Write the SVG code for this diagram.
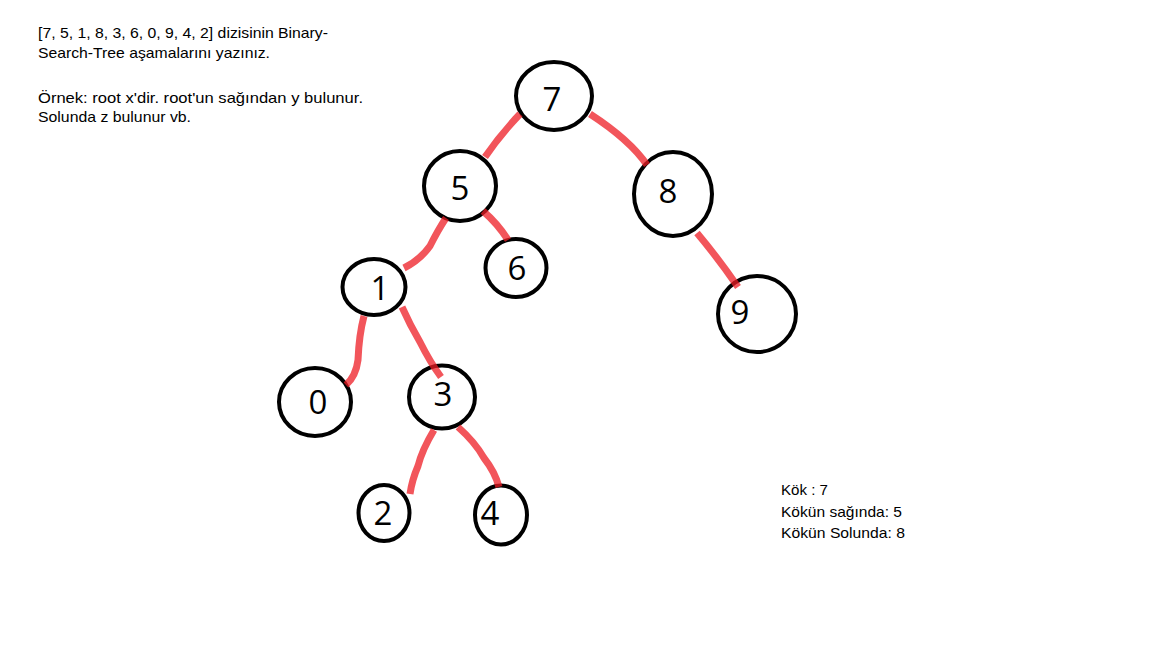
<svg xmlns="http://www.w3.org/2000/svg" width="1152" height="648" viewBox="0 0 1152 648">
<style>
.edge{fill:none;stroke:#ed1c24;stroke-opacity:0.75;stroke-width:7;stroke-linecap:butt;stroke-linejoin:round}
.node ellipse{fill:#fff;stroke:#000;stroke-width:4}
.node text{font-family:"Open Sans","DejaVu Sans",sans-serif;font-size:33px;fill:#000;text-anchor:middle}
.note{font-family:"Liberation Sans",Arial,sans-serif;font-size:15px;fill:#000}
</style>
<rect width="1152" height="648" fill="#fff"/>
<g id="node7" class="node"><ellipse cx="554" cy="96" rx="38" ry="34"/><text x="552" y="111">7</text></g>
<g id="node5" class="node"><ellipse cx="460" cy="186" rx="36" ry="35"/><text x="460" y="200">5</text></g>
<g id="node8" class="node"><ellipse cx="673" cy="194" rx="39" ry="42"/><text x="668" y="203">8</text></g>
<g id="node6" class="node"><ellipse cx="516" cy="268" rx="30.5" ry="29"/><text x="517" y="280">6</text></g>
<g id="node1" class="node"><ellipse cx="374" cy="287" rx="31.5" ry="28"/><text x="380" y="300">1</text></g>
<g id="node9" class="node"><ellipse cx="757" cy="314" rx="39" ry="38"/><text x="740" y="324">9</text></g>
<g id="node0" class="node"><ellipse cx="315" cy="402" rx="36" ry="34"/><text x="318" y="414">0</text></g>
<g id="node3" class="node"><ellipse cx="442" cy="397" rx="33" ry="31.5"/><text x="443" y="406">3</text></g>
<g id="node2" class="node"><ellipse cx="384" cy="513" rx="25.5" ry="28"/><text x="383" y="525">2</text></g>
<g id="node4" class="node"><ellipse cx="501" cy="515" rx="26" ry="29.5"/><text x="490" y="525">4</text></g>
<g id="connectors">
<path class="edge" d="M520,114 Q500,135 485,157"/>
<path class="edge" d="M590,114 Q630,140 647,165"/>
<path class="edge" d="M483,211 Q498,224 508,240"/>
<path class="edge" d="M446,218 Q438,230 430,246 Q420,260 404,268"/>
<path class="edge" d="M697,233 Q718,258 738,287"/>
<path class="edge" d="M364,316 Q359,335 358,360 Q356,376 346,385"/>
<path class="edge" d="M402,307 Q410,325 420,342 Q430,362 441,377"/>
<path class="edge" d="M434,430 Q422,450 418,466 Q412,480 410,494"/>
<path class="edge" d="M458,427 Q475,442 484,458 Q495,472 499,487"/>
</g>
<g id="notes">
<text class="note" x="38" y="37.5" textLength="290" lengthAdjust="spacingAndGlyphs">[7, 5, 1, 8, 3, 6, 0, 9, 4, 2] dizisinin Binary-</text>
<text class="note" x="38" y="58" textLength="232" lengthAdjust="spacingAndGlyphs">Search-Tree aşamalarını yazınız.</text>
<text class="note" x="38" y="102.5" textLength="325" lengthAdjust="spacingAndGlyphs">Örnek: root x'dir. root'un sağından y bulunur.</text>
<text class="note" x="38" y="122" textLength="153" lengthAdjust="spacingAndGlyphs">Solunda z bulunur vb.</text>
<text class="note" x="781" y="495" textLength="47" lengthAdjust="spacingAndGlyphs">Kök : 7</text>
<text class="note" x="781" y="516.5" textLength="121" lengthAdjust="spacingAndGlyphs">Kökün sağında: 5</text>
<text class="note" x="781" y="538" textLength="124" lengthAdjust="spacingAndGlyphs">Kökün Solunda: 8</text>
</g>
</svg>
